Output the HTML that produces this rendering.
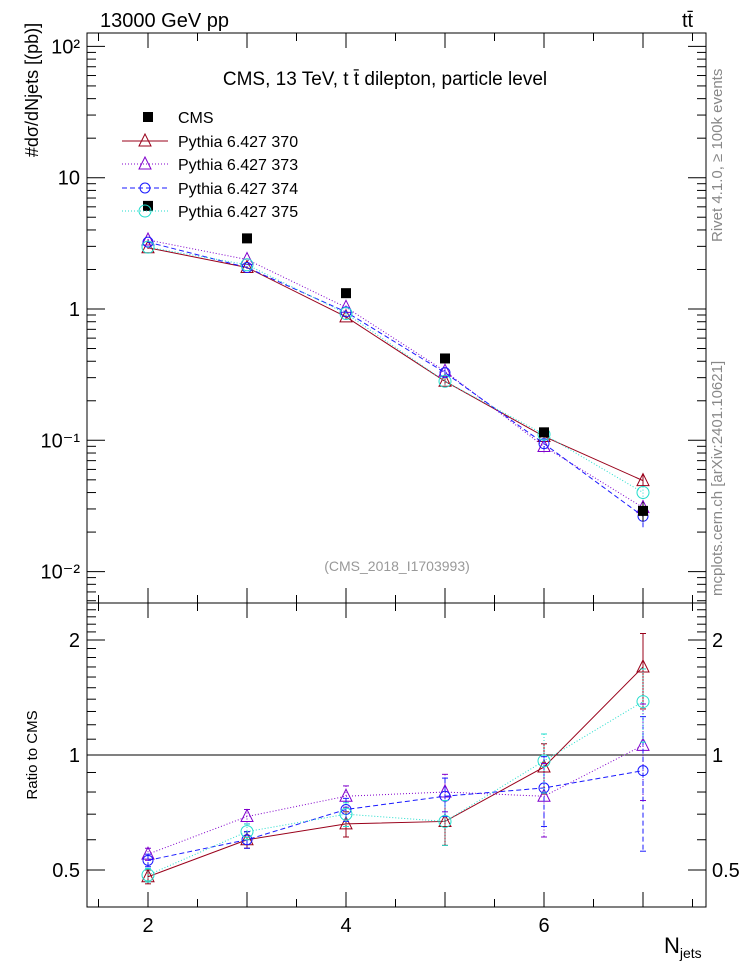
<!DOCTYPE html>
<html><head><meta charset="utf-8"><style>
body{margin:0;background:#fff}
text{font-family:"Liberation Sans",sans-serif}
</style></head><body>
<svg id="c" width="746" height="972" xmlns="http://www.w3.org/2000/svg">
</svg>
<script>
const nJets=[2,3,4,5,6,7];
const cmsVals=[6.1,3.45,1.32,0.42,0.115,0.029];
const cmsErr=[0.3,0.15,0.06,0.02,0.01,0.005];
const seriesNames=["Pythia 6.427 370","Pythia 6.427 373","Pythia 6.427 374","Pythia 6.427 375"];
const ratio370=[0.48,0.60,0.66,0.67,0.93,1.70];
const ratio373=[0.55,0.69,0.78,0.80,0.78,1.06];
const ratio374=[0.53,0.60,0.72,0.78,0.82,0.91];
const ratio375=[0.485,0.63,0.70,0.67,0.965,1.38];
const ratioErr370=[0.02,0.03,0.05,0.09,0.14,0.38];
const ratioErr373=[0.02,0.03,0.05,0.09,0.17,0.30];
const ratioErr374=[0.02,0.03,0.05,0.09,0.17,0.35];
const ratioErr375=[0.02,0.03,0.05,0.09,0.17,0.30];
const mainTicks=[100,10,1,0.1,0.01];
const mainTickLabels=["10²","10","1","10⁻¹","10⁻²"];
const ratioTicks=[2,1,0.5];
const ratioTickLabels=["2","1","0.5"];
const xTicks=[2,4,6];

const svg=document.getElementById('c');
const NS="http://www.w3.org/2000/svg";
function el(t,a,p){const e=document.createElementNS(NS,t);for(const k in a)e.setAttribute(k,a[k]);(p||svg).appendChild(e);return e;}
const L=87,R=706,T=33,M=603,B=907;
const X=v=>148+(v-2)*99;
const Ym=v=>309-Math.log10(v)*131.3;
const Yr=v=>755-Math.log10(v)*382;
const styles=[
 {c:"#99001a",d:"",m:"tri",ratio:ratio370,err:ratioErr370},
 {c:"#8000cc",d:"1,2",m:"tri",ratio:ratio373,err:ratioErr373},
 {c:"#1a1aff",d:"5,3",m:"circ",ratio:ratio374,err:ratioErr374},
 {c:"#22ddcc",d:"1,2",m:"circ6",ratio:ratio375,err:ratioErr375}];

// frames
let f=el('rect',{x:L,y:T,width:R-L,height:M-T,fill:"none",stroke:"#000","stroke-width":1});

f=el('rect',{x:L,y:M,width:R-L,height:B-M,fill:"none",stroke:"#000","stroke-width":1});


// x ticks
for(let v=1.5;v<=7.5;v+=0.5){const x=X(v);if(x<L||x>R)continue;const len=Number.isInteger(v)?15:8;
 for(const [y0,dir] of [[T,1],[M,-1],[M,1],[B,-1]]) el('line',{x1:x,x2:x,y1:y0,y2:y0+dir*len,stroke:"#000"});}
for(const v of xTicks){const t=el('text',{x:X(v),y:932,"font-size":20,"text-anchor":"middle"});t.textContent=v;
 }
// main y ticks
for(let e=-3;e<=2;e++)for(let k=1;k<10;k++){const v=k*Math.pow(10,e);const y=Ym(v);if(y<T||y>M)continue;const len=k==1?18:9;
 el('line',{x1:L,x2:L+len,y1:y,y2:y,stroke:"#000"});el('line',{x1:R,x2:R-len,y1:y,y2:y,stroke:"#000"});}
mainTicks.forEach((v,i)=>{const t=el('text',{x:80,y:Ym(v)+7,"font-size":20,"text-anchor":"end"});t.textContent=mainTickLabels[i];
 });
// ratio y ticks
for(let v=0.4;v<=2.55;v+=0.1){const y=Yr(v);if(y<M||y>B)continue;const big=[0.5,1,2].some(q=>Math.abs(q-v)<1e-6);const len=big?18:9;
 el('line',{x1:L,x2:L+len,y1:y,y2:y,stroke:"#000"});el('line',{x1:R,x2:R-len,y1:y,y2:y,stroke:"#000"});}
ratioTicks.forEach((v,i)=>{let t=el('text',{x:80,y:Yr(v)+7,"font-size":20,"text-anchor":"end"});t.textContent=ratioTickLabels[i];
 
 t=el('text',{x:712,y:Yr(v)+7,"font-size":20});t.textContent=ratioTickLabels[i];
 });
el('line',{x1:L,x2:R,y1:Yr(1),y2:Yr(1),stroke:"#000"});

function marker(s,x,y,g){
 if(s.m=="tri")el('polygon',{points:`${x},${y-7} ${x-6},${y+5} ${x+6},${y+5}`,fill:"none",stroke:s.c},g);
 else el('circle',{cx:x,cy:y,r:s.m=="circ6"?6:5,fill:"none",stroke:s.c},g);
}
// series
styles.forEach((s,i)=>{
 const gm=el('g',{});
 const mv=s.ratio.map((r,j)=>r*cmsVals[j]);
 el('polyline',{points:nJets.map((n,j)=>X(n)+","+Ym(mv[j])).join(" "),fill:"none",stroke:s.c,"stroke-dasharray":s.d},gm);
 nJets.forEach((n,j)=>{const e=s.err[j]/s.ratio[j]*mv[j]*0.5;el('line',{x1:X(n),x2:X(n),y1:Ym(mv[j]+e),y2:Ym(Math.max(mv[j]-e,1e-4)),stroke:s.c,"stroke-dasharray":s.d},gm);marker(s,X(n),Ym(mv[j]),gm);});
 const gr=el('g',{});
 el('polyline',{points:nJets.map((n,j)=>X(n)+","+Yr(s.ratio[j])).join(" "),fill:"none",stroke:s.c,"stroke-dasharray":s.d},gr);
 nJets.forEach((n,j)=>{el('line',{x1:X(n),x2:X(n),y1:Yr(s.ratio[j]+s.err[j]),y2:Yr(s.ratio[j]-s.err[j]),stroke:s.c,"stroke-dasharray":s.d},gr);
  el('line',{x1:X(n)-3,x2:X(n)+3,y1:Yr(s.ratio[j]+s.err[j]),y2:Yr(s.ratio[j]+s.err[j]),stroke:s.c},gr);
  el('line',{x1:X(n)-3,x2:X(n)+3,y1:Yr(s.ratio[j]-s.err[j]),y2:Yr(s.ratio[j]-s.err[j]),stroke:s.c},gr);
  marker(s,X(n),Yr(s.ratio[j]),gr);});
});
// CMS data
const gc=el('g',{});
nJets.forEach((n,j)=>{el('line',{x1:X(n),x2:X(n),y1:Ym(cmsVals[j]+cmsErr[j]),y2:Ym(cmsVals[j]-cmsErr[j]),stroke:"#000"},gc);
 el('rect',{x:X(n)-5,y:Ym(cmsVals[j])-5,width:10,height:10,fill:"#000"},gc);});

// legend
const lg=el('g',{});
const ly=[117,141,164,188,211];
el('rect',{x:143,y:ly[0]-5,width:10,height:10,fill:"#000"},lg);
let t=el('text',{x:178,y:ly[0]+6,"font-size":16},lg);t.textContent="CMS";
styles.forEach((s,i)=>{const y=ly[i+1];el('line',{x1:122,x2:168,y1:y,y2:y,stroke:s.c,"stroke-dasharray":s.d},lg);marker(s,145,y,lg);
 const tt=el('text',{x:178,y:y+6,"font-size":16},lg);tt.textContent=seriesNames[i];
 });

function txt(name,attrs,s){const e=el('text',attrs);e.textContent=s;return e;}
txt('header-left',{x:100,y:27,"font-size":20},"13000 GeV pp");
txt('header-right',{x:682,y:27,"font-size":20},"tt̄");
txt('plot-title',{x:385,y:85,"font-size":19,"text-anchor":"middle"},"CMS, 13 TeV, t t̄ dilepton, particle level");
txt('analysis-id',{x:397,y:571,"font-size":14,"text-anchor":"middle",fill:"#999"},"(CMS_2018_I1703993)");
txt('y-axis-title',{x:0,y:0,"font-size":18,transform:"translate(38,90) rotate(-90)","text-anchor":"middle"},"#dσ/dNjets [(pb)]");
txt('ratio-y-axis-title',{x:0,y:0,"font-size":15,transform:"translate(37,755) rotate(-90)","text-anchor":"middle"},"Ratio to CMS");
txt('rivet-label',{x:0,y:0,"font-size":15,fill:"#888",transform:"translate(722,242) rotate(-90)"},"Rivet 4.1.0, ≥ 100k events");
txt('mcplots-label',{x:0,y:0,"font-size":15,fill:"#888",transform:"translate(722,596) rotate(-90)"},"mcplots.cern.ch [arXiv:2401.10621]");
const xl=txt('x-axis-title',{x:664,y:953,"font-size":22},"N");
const sub=document.createElementNS(NS,'tspan');sub.setAttribute('font-size','14');sub.setAttribute('dy','5');sub.textContent="jets";xl.appendChild(sub);
</script>
</body></html>
